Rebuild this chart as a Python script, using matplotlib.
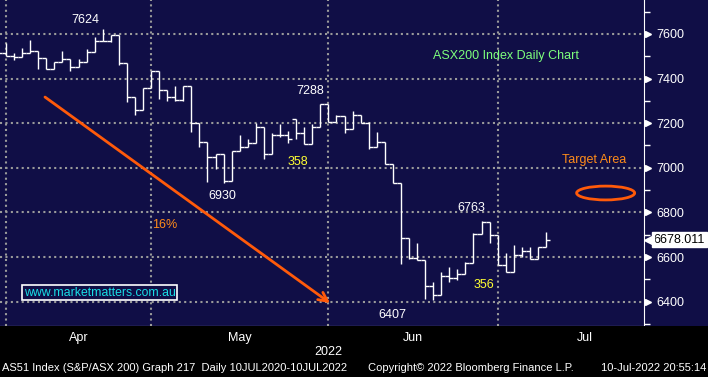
import numpy as np
import matplotlib
matplotlib.use("Agg")
import matplotlib.pyplot as plt
from matplotlib.patches import Ellipse, Rectangle
import matplotlib.transforms as mtransforms

plt.rcParams['font.family'] = ['Liberation Sans', 'DejaVu Sans']

# daily OHLC, ASX200, late Mar -> 8 Jul 2022
opens = [7510, 7513, 7501, 7496, 7513, 7525, 7491, 7442, 7476, 7487,
         7453, 7476, 7521, 7569, 7570, 7596, 7471, 7316, 7259, 7357,
         7434, 7349, 7316, 7304, 7367, 7202, 7117, 7047, 7062, 6942,
         7077, 7092, 7110, 7182, 7062, 7147, 7147, 7218, 7155, 7107,
         7182, 7286, 7207, 7232, 7173, 7237, 7202, 7092, 7117, 7017,
         6930, 6684, 6594, 6587, 6470, 6428, 6515, 6505, 6524, 6575,
         6703, 6758, 6699, 6564, 6534, 6609, 6628, 6590, 6644]
highs = [7522, 7561, 7513, 7536, 7573, 7525, 7491, 7476, 7525, 7487,
         7487, 7531, 7585, 7624, 7596, 7596, 7471, 7316, 7357, 7436,
         7434, 7349, 7367, 7367, 7367, 7202, 7117, 7062, 7062, 7077,
         7147, 7129, 7202, 7182, 7155, 7196, 7167, 7218, 7184, 7196,
         7286, 7288, 7237, 7232, 7256, 7237, 7207, 7162, 7117, 7017,
         6930, 6684, 6664, 6587, 6489, 6534, 6554, 6545, 6579, 6709,
         6763, 6758, 6699, 6619, 6654, 6646, 6646, 6644, 6714]
lows = [7505, 7501, 7484, 7496, 7513, 7442, 7442, 7442, 7476, 7436,
        7453, 7476, 7521, 7569, 7566, 7461, 7296, 7237, 7259, 7357,
        7307, 7301, 7301, 7301, 7162, 7095, 6938, 6993, 6930, 6942,
        7077, 7092, 7110, 7038, 7062, 7137, 7113, 7128, 7107, 7107,
        7182, 7207, 7207, 7155, 7173, 7202, 7083, 7092, 7017, 6930,
        6569, 6590, 6587, 6410, 6407, 6428, 6489, 6497, 6524, 6575,
        6703, 6664, 6564, 6534, 6534, 6601, 6590, 6590, 6644]
closes = [7513, 7501, 7496, 7513, 7525, 7491, 7442, 7476, 7487, 7453,
          7476, 7521, 7569, 7570, 7596, 7471, 7316, 7259, 7357, 7434,
          7349, 7316, 7304, 7367, 7202, 7117, 7047, 7062, 6942, 7077,
          7092, 7110, 7182, 7062, 7147, 7147, 7128, 7155, 7107, 7182,
          7286, 7207, 7232, 7173, 7237, 7202, 7092, 7117, 7017, 6930,
          6684, 6594, 6587, 6470, 6428, 6515, 6505, 6524, 6575, 6703,
          6758, 6699, 6564, 6534, 6609, 6628, 6590, 6644, 6678.011]
first_day = -1  # 31 Mar, just before the first April session

months = ['Apr', 'May', 'Jun', 'Jul']
month_starts = [0, 18, 40, 61]
month_label_pos = [9, 29, 50.5, 71.8]
y_ticks = [6400, 6600, 6800, 7000, 7200, 7400, 7600]

# peak / trough call-outs: (text, x, y)
callouts = [('7624', 9.9, 7663), ('7288', 37.7, 7344), ('6930', 26.8, 6874),
            ('6407', 47.9, 6340), ('6763', 57.7, 6820)]
moves = [('358', 36.2, 7026), ('356', 59.3, 6475)]

NAVY = '#100e46'
GRID = '#9a9a9a'
ORANGE = '#ff5a0a'

fig = plt.figure(figsize=(7.08, 3.77), dpi=100, facecolor=NAVY)
fig.patches.append(Rectangle((0, 0), 1, 51 / 377, transform=fig.transFigure,
                             facecolor='black', zorder=0))
ax = fig.add_axes([0, 51 / 377, 644 / 708, 326 / 377])
ax.set_facecolor(NAVY)

x = np.arange(first_day, first_day + len(closes))
ax.vlines(x, lows, highs, color='white', lw=1.0, zorder=3)
ax.hlines(opens, x - 0.5, x, color='white', lw=1.0, zorder=3)
ax.hlines(closes, x, x + 0.5, color='white', lw=1.0, zorder=3)

ax.set_xlim(-0.744, 79.16)
ax.set_ylim(6291, 7752)

# grid
for v in y_ticks:
    ax.axhline(v, color=GRID, lw=1.5, ls=(0, (1, 1.6)), zorder=1)
for m in month_starts:
    ax.axvline(m, color=GRID, lw=1.5, ls=(0, (1, 1.6)), zorder=1)

# axes look
for s in ['top', 'left']:
    ax.spines[s].set_visible(False)
ax.spines['right'].set_color('white')
ax.spines['bottom'].set_color('white')
ax.yaxis.tick_right()
ax.set_yticks(y_ticks)
ax.set_yticklabels([str(v) for v in y_ticks])
ax.set_yticks(np.arange(6300, 7800, 200), minor=True)
ax.tick_params(axis='y', which='major', colors='white', length=0, pad=9,
               labelsize=9)
ax.tick_params(axis='y', which='minor', colors='white', length=4, width=1)
tr_y = mtransforms.blended_transform_factory(ax.transAxes, ax.transData)
ax.plot([1.006] * len(y_ticks), y_ticks, marker='>', ls='none', color='white',
        ms=5, transform=tr_y, clip_on=False, zorder=5)

ax.set_xticks(month_starts)
ax.set_xticklabels([])
ax.tick_params(axis='x', colors='white', length=4, width=1, direction='out')
tr_x = mtransforms.blended_transform_factory(ax.transData, fig.transFigure)
for lab, pos in zip(months, month_label_pos):
    fig.text(pos, 1 - 338 / 377, lab, transform=tr_x, color='white',
             fontsize=9, ha='center', va='center')
fig.text(328 / 708, 1 - 352 / 377, '2022', color='white', fontsize=9,
         ha='center', va='center')

# footer
fig.text(2 / 708, 1 - 368 / 377,
         'AS51 Index (S&P/ASX 200) Graph 217  Daily 10JUL2020-10JUL2022',
         color='white', fontsize=8, ha='left', va='center')
fig.text(368 / 708, 1 - 368 / 377, 'Copyright\u00a9 2022 Bloomberg Finance L.P.',
         color='white', fontsize=8, ha='left', va='center')
fig.text(706 / 708, 1 - 368 / 377, '10-Jul-2022 20:55:14',
         color='white', fontsize=8, ha='right', va='center')

# annotations
for t, tx, ty in callouts:
    ax.text(tx, ty, t, color='white', fontsize=9, ha='center', va='center')
for t, tx, ty in moves:
    ax.text(tx, ty, t, color='#ffff33', fontsize=9, ha='center', va='center')
ax.text(19.7, 6744, '16%', color='#ff8c1a', fontsize=9, ha='center', va='center')
ax.text(53, 7501, 'ASX200 Index Daily Chart', color='#7dff7d', fontsize=9,
        ha='left', va='center')
ax.text(69, 7035, 'Target Area', color='#ff8c1a', fontsize=9,
        ha='left', va='center')
ax.add_patch(Ellipse((74.4, 6887), 7.2, 62, fill=False, edgecolor=ORANGE,
                     lw=2, zorder=4))
ax.annotate('', xy=(40.2, 6394), xytext=(4.84, 7317),
            arrowprops=dict(arrowstyle='->', color=ORANGE, lw=2,
                            mutation_scale=16, shrinkA=0, shrinkB=0), zorder=4)
ax.text(2.2, 6440, 'www.marketmatters.com.au', color='#19dfe6', fontsize=8.8,
        ha='left', va='center',
        bbox=dict(boxstyle='square,pad=0.12', fc=NAVY, ec='white', lw=1.2))

# last price tag
ax.text(1.015, closes[-1], f'{closes[-1]:.3f}', transform=tr_y, color='black',
        fontsize=9, ha='left', va='center', clip_on=False, zorder=6,
        bbox=dict(boxstyle='square,pad=0.12', fc='white', ec='white'))
ax.plot([1.008], [closes[-1]], marker='<', ms=7, color='white', ls='none',
        transform=tr_y, clip_on=False, zorder=6)

fig.savefig('out.png', dpi=100, facecolor=fig.get_facecolor())
